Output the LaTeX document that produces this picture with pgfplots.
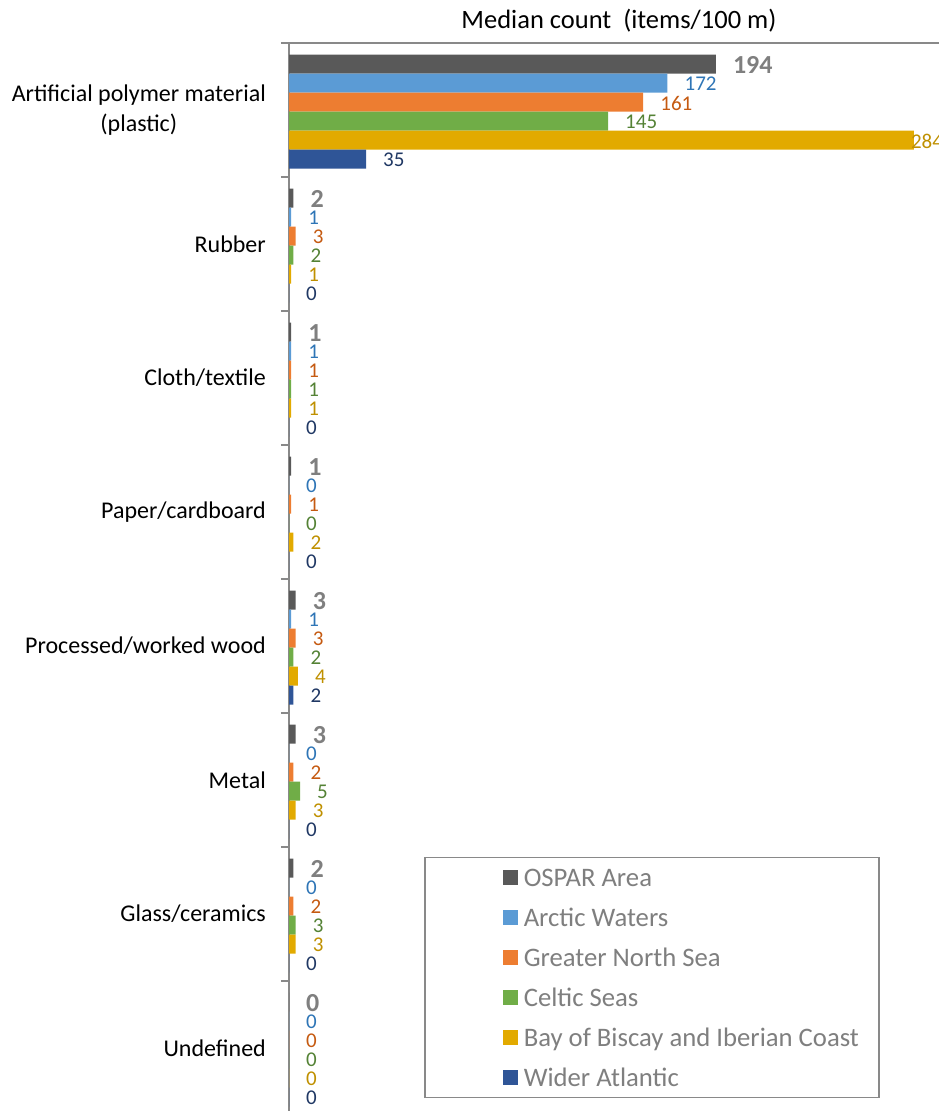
\documentclass[border=0pt]{standalone}
\usepackage{fontspec}
\setmainfont{Carlito}
\usepackage{pgfplots}
\usepackage{pgfplotstable}
\pgfplotsset{compat=1.18}

\definecolor{ospar}{HTML}{595959}
\definecolor{arctic}{HTML}{5B9BD5}
\definecolor{gns}{HTML}{ED7D31}
\definecolor{celtic}{HTML}{70AD47}
\definecolor{biscay}{HTML}{E2AA00}
\definecolor{wider}{HTML}{2F5597}
\definecolor{osparlbl}{HTML}{7F7F7F}
\definecolor{arcticlbl}{HTML}{2E75B6}
\definecolor{gnslbl}{HTML}{C55A11}
\definecolor{celticlbl}{HTML}{548235}
\definecolor{biscaylbl}{HTML}{BF9000}
\definecolor{widerlbl}{HTML}{203864}
\definecolor{axisgray}{HTML}{898989}

\newcommand\catfont{\fontsize{24bp}{30.5bp}\selectfont}
\newcommand\titfont{\fontsize{26.5bp}{31bp}\selectfont}
\newcommand\lblfont{\fontsize{21bp}{25bp}\selectfont}
\newcommand\lblbold{\fontsize{26bp}{31bp}\selectfont\bfseries}
\newcommand\legfont{\fontsize{26.7bp}{32bp}\selectfont}

% median counts per material, one column per region
\pgfplotstableread{
cat ospar arctic gns celtic biscay wider
0   194   172    161 145    284    35
1   2     1      3   2      1      0
2   1     1      1   1      1      0
3   1     0      1   0      2      0
4   3     1      3   2      4      2
5   3     0      2   5      3      0
6   2     0      2   3      3      0
7   0     0      0   0      0      0
}\litter

% #2 = shift of the bar in bp (up is positive)
\pgfplotsset{
  matbar/.style n args={4}{xbar, fill=#1, draw=none, bar width=19bp, bar shift=#2,
    nodes near coords,
    nodes near coords style={anchor=west, inner sep=0pt, xshift=17bp, yshift=#2-1bp, text=#3, font=#4}},
}

\begin{document}
\begin{tikzpicture}
\useasboundingbox (0,0) rectangle (939bp,1111bp);
\begin{axis}[
  at={(289bp,-4bp)}, anchor=south west,
  scale only axis, width=700bp, height=1072bp,
  xmin=0, xmax=318.18, ymin=-0.5, ymax=7.5, y dir=reverse,
  xtick=\empty,
  ytick={0,...,7},
  yticklabels={{Artificial polymer material\\(plastic)},Rubber,Cloth/textile,Paper/cardboard,Processed/worked wood,Metal,Glass/ceramics,Undefined},
  minor ytick={-0.5,0.5,...,7.5},
  major tick length=0pt, minor tick length=8bp,
  tick align=outside, ytick pos=left,
  minor tick style={draw=axisgray, line width=1.5bp},
  axis line style={draw=axisgray, line width=2bp},
  yticklabel style={font=\catfont, text=black, align=center, inner sep=0pt, xshift=-23bp},
  title={Median count~~(items/100 m)},
  title style={font=\titfont, at={(0.4714,1)}, anchor=base, inner sep=0pt, yshift=9bp},
  /pgf/number format/assume math mode=true,
  legend cell align=left,
  legend style={at={(0.1929,0.2407)}, anchor=north west, draw=axisgray, line width=1.5bp,
    font=\legfont, inner xsep=20bp, inner ysep=8bp, row sep=16bp, column sep=6bp,
    nodes={inner sep=0pt, text height=20.5bp, text depth=3.5bp, text=osparlbl}},
  legend image code/.code={\path[draw=none, draw opacity=0, fill opacity=0] (0bp,0bp) -- (58bp,0bp);
    \fill[#1, draw=none] (58bp,-7.5bp) rectangle (73bp,7.5bp);},
]
\addplot[matbar={ospar}{46bp}{osparlbl}{\lblbold}] table[x=ospar,y=cat]{\litter};
\addlegendentry{OSPAR Area}
\addplot[matbar={arctic}{27bp}{arcticlbl}{\lblfont}] table[x=arctic,y=cat]{\litter};
\addlegendentry{Arctic Waters}
\addplot[matbar={gns}{8bp}{gnslbl}{\lblfont}] table[x=gns,y=cat]{\litter};
\addlegendentry{Greater North Sea}
\addplot[matbar={celtic}{-11bp}{celticlbl}{\lblfont}] table[x=celtic,y=cat]{\litter};
\addlegendentry{Celtic Seas}
\addplot[matbar={biscay}{-30bp}{biscaylbl}{\lblfont},
  visualization depends on=rawx\as\bv,
  nodes near coords style={xshift={(\bv>250)*(-20)}}] table[x=biscay,y=cat]{\litter};
\addlegendentry{Bay of Biscay and Iberian Coast}
\addplot[matbar={wider}{-49bp}{widerlbl}{\lblfont}] table[x=wider,y=cat]{\litter};
\addlegendentry{Wider Atlantic}
\end{axis}
\end{tikzpicture}
\end{document}
